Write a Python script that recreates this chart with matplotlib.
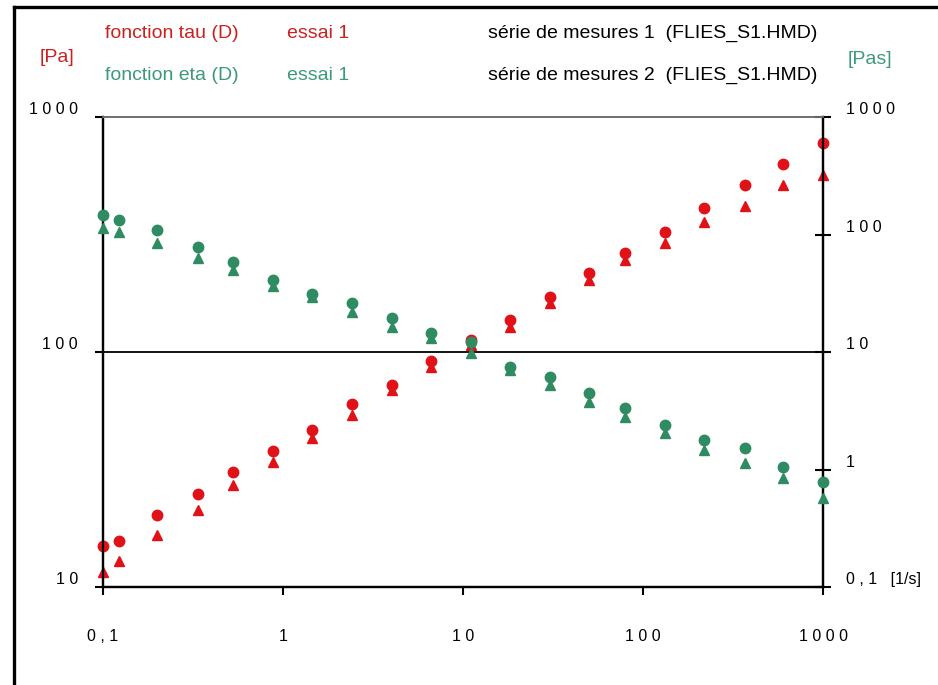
import numpy as np
import matplotlib.pyplot as plt
from matplotlib.lines import Line2D
from matplotlib.transforms import ScaledTranslation

plt.rcParams['font.family'] = ['Liberation Sans', 'DejaVu Sans']

# shear rate [1/s]
shear = [0.1, 0.123, 0.2, 0.337, 0.527, 0.88, 1.45, 2.42, 4.03, 6.64,
         11.1, 18.2, 30.4, 50.1, 79.4, 132, 218, 369, 600, 1000]
# tau [Pa], series 1 (circles) and 2 (triangles)
tau_1 = [15.0, 15.7, 20.2, 24.9, 30.9, 37.9, 46.6, 60.1, 72.4, 91.6,
         112.5, 136.8, 171.5, 216.9, 263.7, 324, 410, 514, 631, 775]
tau_2 = [11.6, 12.9, 16.6, 21.3, 27.2, 34.0, 43.0, 54.0, 68.9, 86.3,
         107, 127.7, 161.8, 202, 246, 291, 357, 418, 514, 566]
# eta [Pas]
eta_1 = [146.6, 132.9, 109.2, 78.3, 58.3, 41.0, 31.2, 26.1, 19.5, 14.5,
         12.2, 7.45, 6.13, 4.48, 3.34, 2.39, 1.78, 1.52, 1.05, 0.78]
eta_2 = [113.6, 105, 84.7, 63.1, 49.9, 36.5, 29.4, 21.9, 16.3, 13.2,
         9.8, 7.03, 5.24, 3.75, 2.80, 2.05, 1.47, 1.14, 0.85, 0.57]

x_ticks = [0.1, 1, 10, 100, 1000]
x_labels = ['0 , 1', '1', '1 0', '1 0 0', '1 0 0 0']
pa_ticks = [10, 100, 1000]
pa_labels = ['1 0', '1 0 0', '1 0 0 0']
pas_ticks = [0.1, 1, 10, 100, 1000]
pas_labels = ['0 , 1   [1/s]', '1', '1 0', '1 0 0', '1 0 0 0']

red = '#e01218'
green = '#2e8b62'
red_txt = '#cc2020'
green_txt = '#3c9a78'

W, H = 938, 685
fig = plt.figure(figsize=(W / 100, H / 100), dpi=100)
ax = fig.add_axes([103 / W, 1 - 587 / H, 720 / W, 470 / H])
ax2 = ax.twinx()

ax.set_xscale('log')
ax.set_yscale('log')
ax2.set_yscale('log')
ax.set_xlim(0.1, 1000)
ax.set_ylim(10, 1000)
ax2.set_ylim(0.1, 1000)

ms = 7.5
ax.plot(shear, tau_2, '^', color=red, ms=ms, mec=red, clip_on=False, zorder=3)
ax.plot(shear, tau_1, 'o', color=red, ms=ms, mec=red, clip_on=False, zorder=3)
ax2.plot(shear, eta_2, '^', color=green, ms=ms, mec=green, clip_on=False, zorder=3)
ax2.plot(shear, eta_1, 'o', color=green, ms=ms, mec=green, clip_on=False, zorder=3)

ax.axhline(100, color='black', lw=1.3, zorder=1)

for a in (ax, ax2):
    a.yaxis.set_minor_locator(plt.NullLocator())
    for s in a.spines.values():
        s.set_linewidth(1.6)
    a.spines['top'].set_color('#707070')
    a.spines['top'].set_linewidth(1.3)
ax.xaxis.set_minor_locator(plt.NullLocator())

ax.set_xticks(x_ticks, x_labels)
ax.set_yticks(pa_ticks, pa_labels)
ax2.set_yticks(pas_ticks, pas_labels)

ax.tick_params(axis='x', direction='out', length=6, width=1.5, pad=24, labelsize=11.5)
ax.tick_params(axis='y', direction='out', length=6, width=1.5, pad=12, labelsize=11.5)
ax2.tick_params(axis='y', direction='inout', length=11, width=1.5, pad=11, labelsize=11.5)

up = ScaledTranslation(0, 0.09, fig.dpi_scale_trans)
for lab in ax.get_yticklabels() + ax2.get_yticklabels():
    lab.set_transform(lab.get_transform() + up)

# header texts
def ftext(px, py, s, color, ha='left'):
    fig.text(px / W, 1 - py / H, s, color=color, fontsize=14, ha=ha, va='center')

ftext(105, 33, 'fonction tau (D)', red_txt)
ftext(287, 33, 'essai 1', red_txt)
ftext(488, 33, 'série de mesures 1  (FLIES_S1.HMD)', 'black')
ftext(105, 75, 'fonction eta (D)', green_txt)
ftext(287, 75, 'essai 1', green_txt)
ftext(488, 75, 'série de mesures 2  (FLIES_S1.HMD)', 'black')
ftext(57, 57, '[Pa]', red_txt, ha='center')
ftext(870, 60, '[Pas]', green_txt, ha='center')

# outer frame
fig.add_artist(Line2D([14 / W, 14 / W], [0, 1 - 7 / H], color='black', lw=2.4))
fig.add_artist(Line2D([14 / W, 1], [1 - 7 / H, 1 - 7 / H], color='black', lw=2.4))

fig.savefig('out.png', dpi=100)
